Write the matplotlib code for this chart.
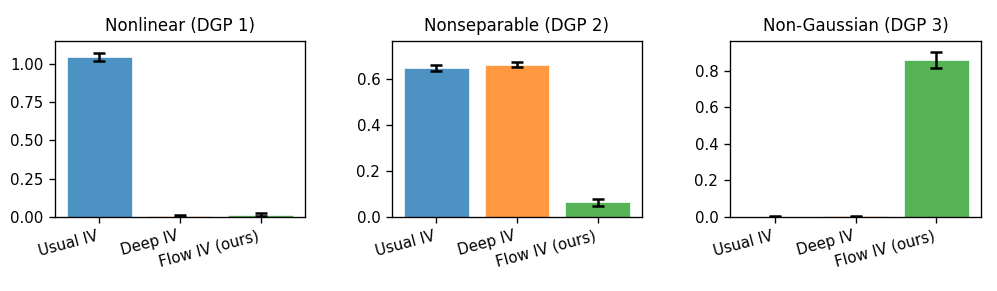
import matplotlib
matplotlib.use("Agg")
import matplotlib.pyplot as plt
import numpy as np

methods = ["Usual IV", "Deep IV", "Flow IV (ours)"]
titles = ["Nonlinear (DGP 1)", "Nonseparable (DGP 2)", "Non-Gaussian (DGP 3)"]

means_dgp1 = [1.045, 0.008, 0.015]
errs_dgp1 = [0.024, 0.006, 0.010]
means_dgp2 = [0.648, 0.662, 0.064]
errs_dgp2 = [0.012, 0.012, 0.016]
means_dgp3 = [0.002, 0.003, 0.860]
errs_dgp3 = [0.002, 0.003, 0.045]

means = [means_dgp1, means_dgp2, means_dgp3]
errs = [errs_dgp1, errs_dgp2, errs_dgp3]
ytops = [1.15, 0.765, 0.964]
colors = ["#1f77b4", "#ff7f0e", "#2ca02c"]

DPI = 120
W, H = 997, 291
fig = plt.figure(figsize=(W / DPI, H / DPI), dpi=DPI)
boxes = [(55, 305), (392, 642), (730, 981)]
top, bottom = 41, 217

for i in range(3):
    l, r = boxes[i]
    ax = fig.add_axes([l / W, 1 - bottom / H, (r - l) / W, (bottom - top) / H])
    x = np.arange(len(methods))
    ax.bar(x, means[i], width=0.8, color=colors, alpha=0.8, edgecolor="white", linewidth=0.5)
    ax.errorbar(x, means[i], yerr=errs[i], fmt="none", ecolor="black",
                capsize=3.5, elinewidth=1.5, capthick=1.5)
    ax.set_ylim(0, ytops[i])
    ax.set_xlim(-0.55, 2.55)
    ax.set_xticks(x)
    ax.set_xticklabels(methods, rotation=15, ha="right")
    ax.set_title(titles[i], fontsize=10)
    ax.tick_params(labelsize=9)

fig.axes[0].set_yticks([0, 0.25, 0.5, 0.75, 1.0])
fig.axes[0].set_yticklabels(["0.00", "0.25", "0.50", "0.75", "1.00"])

plt.savefig("out.png", dpi=DPI)
